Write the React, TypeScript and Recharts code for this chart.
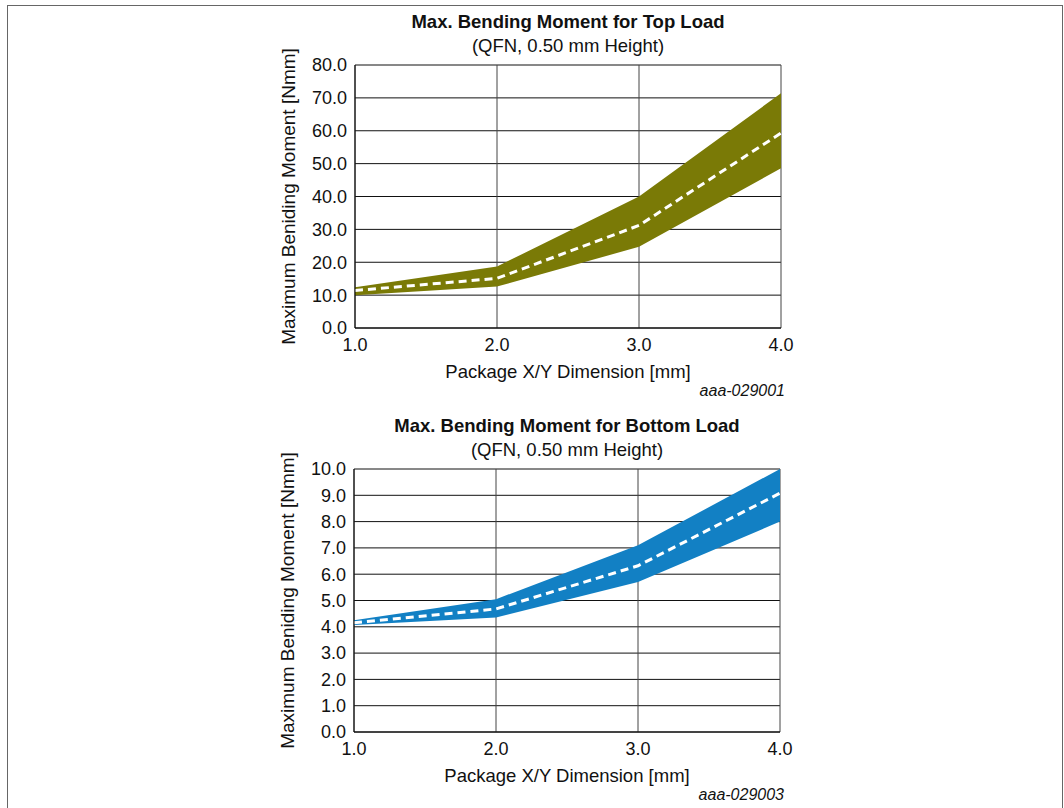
import { ComposedChart, Area, Line, XAxis, YAxis, CartesianGrid } from "recharts";

const sizes = [1, 2, 3, 4];

const topLow = [10.0, 12.6, 24.7, 48.6];
const topHigh = [12.4, 18.7, 40.0, 71.4];
const topMid = [11.4, 15.1, 31.2, 59.3];

const bottomLow = [4.07, 4.35, 5.7, 8.0];
const bottomHigh = [4.25, 5.05, 7.1, 10.0];
const bottomMid = [4.15, 4.68, 6.32, 9.08];

const xTicks = [1, 2, 3, 4];
const topYTicks = [0, 10, 20, 30, 40, 50, 60, 70, 80];
const bottomYTicks = [0, 1, 2, 3, 4, 5, 6, 7, 8, 9, 10];

const font = "'Liberation Sans', Arial, sans-serif";

const build = (low: number[], high: number[], mid: number[]) =>
  sizes.map((x, i) => ({ x, band: [low[i], high[i]], mid: mid[i] }));

interface PanelProps {
  left: number;
  top: number;
  title: string;
  code: string;
  data: { x: number; band: number[]; mid: number }[];
  yTicks: number[];
  yMax: number;
  fill: string;
}

const Panel = ({ left, top, title, code, data, yTicks, yMax, fill }: PanelProps) => {
  const tick = { fill: "#111", fontSize: 18, fontFamily: font };
  return (
    <>
      <div
        style={{
          position: "absolute",
          left: left + 113,
          top: top + 11,
          width: 400,
          textAlign: "center",
          fontFamily: font,
          fontSize: 18.5,
          lineHeight: "21px",
          color: "#111",
        }}
      >
        <div style={{ fontWeight: "bold" }}>{title}</div>
        <div style={{ marginTop: 3 }}>(QFN, 0.50 mm Height)</div>
      </div>
      <div style={{ position: "absolute", left, top }}>
        <ComposedChart
          width={560}
          height={400}
          data={data}
          margin={{ top: 65, right: 34, left: 0, bottom: 17 }}
        >
          <CartesianGrid vertical={false} stroke="#111" />
          <CartesianGrid horizontal={false} stroke="#444" />
          <XAxis
            dataKey="x"
            type="number"
            domain={[1, 4]}
            ticks={xTicks}
            tickFormatter={(v) => Number(v).toFixed(1)}
            tick={tick}
            tickSize={0}
            tickMargin={10}
            height={55}
            stroke="#000"
            label={{
              value: "Package X/Y Dimension [mm]",
              position: "insideBottom",
              offset: 5,
              fill: "#111",
              fontSize: 18.5,
              fontFamily: font,
            }}
          />
          <YAxis
            type="number"
            domain={[0, yMax]}
            ticks={yTicks}
            tickFormatter={(v) => Number(v).toFixed(1)}
            tick={tick}
            tickSize={0}
            tickMargin={8}
            width={100}
            stroke="#000"
            label={{
              value: "Maximum Beniding Moment [Nmm]",
              angle: -90,
              position: "insideLeft",
              offset: 33,
              fill: "#111",
              fontSize: 19,
              fontFamily: font,
              style: { textAnchor: "middle" },
            }}
          />
          <Area
            dataKey="band"
            type="linear"
            fill={fill}
            fillOpacity={1}
            stroke="none"
            isAnimationActive={false}
          />
          <Line
            dataKey="mid"
            type="linear"
            stroke="#fff"
            strokeWidth={3}
            strokeDasharray="8 5"
            dot={false}
            isAnimationActive={false}
          />
        </ComposedChart>
      </div>
      <div
        style={{
          position: "absolute",
          left: left + 330,
          top: top + 382,
          width: 200,
          textAlign: "right",
          fontFamily: font,
          fontSize: 16,
          fontStyle: "italic",
          color: "#111",
        }}
      >
        {code}
      </div>
    </>
  );
};

export default function App() {
  return (
    <div
      style={{
        position: "absolute",
        left: 0,
        top: 0,
        width: 1064,
        height: 808,
        overflow: "hidden",
        background: "#fff",
      }}
    >
      <div
        style={{
          position: "absolute",
          left: 7,
          top: 5,
          width: 1056,
          height: 900,
          border: "1px solid #666",
          boxSizing: "border-box",
        }}
      />
      <Panel
        left={255}
        top={0}
        title="Max. Bending Moment for Top Load"
        code="aaa-029001"
        data={build(topLow, topHigh, topMid)}
        yTicks={topYTicks}
        yMax={80}
        fill="#7a7a06"
      />
      <Panel
        left={254}
        top={404}
        title="Max. Bending Moment for Bottom Load"
        code="aaa-029003"
        data={build(bottomLow, bottomHigh, bottomMid)}
        yTicks={bottomYTicks}
        yMax={10}
        fill="#1280c4"
      />
    </div>
  );
}
